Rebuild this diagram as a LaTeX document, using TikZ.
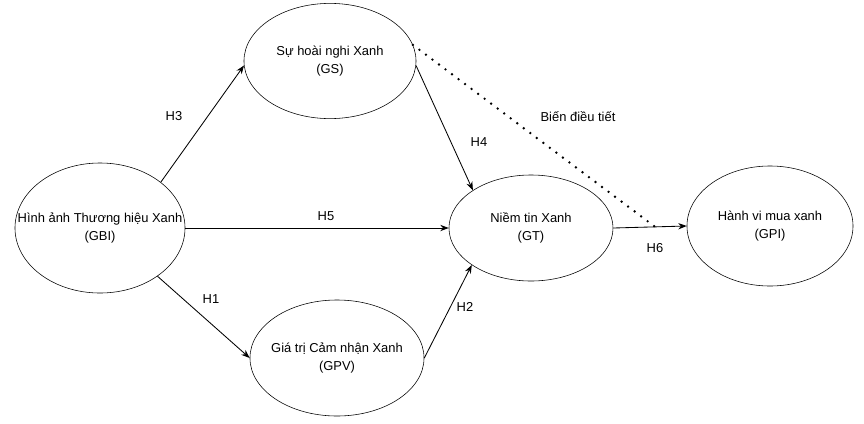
\documentclass[tikz,border=0pt]{standalone}
\usepackage{fontspec}
\setmainfont{Liberation Sans}
\usepackage{tikz}
\usetikzlibrary{shapes.geometric,arrows.meta,positioning}

\begin{document}
\begin{tikzpicture}[x=0.025cm,y=-0.025cm,
  construct/.style={draw,ellipse,inner sep=0pt,
                label={[align=center,font=\fontsize{9.2}{12.8}\selectfont]center:#1}},
  arr/.style={-{Stealth[length=6pt,width=4.5pt]},semithick},
  mod/.style={line width=1.9pt,dash pattern=on 0pt off 5.8pt,line cap=round},
  lbl/.style={font=\fontsize{9.2}{10}\selectfont}
]
\useasboundingbox (0,0) rectangle (864,423);
\node[construct={Hình ảnh Thương hiệu Xanh\\(GBI)},minimum width=4.25cm,minimum height=3.25cm] (GBI) at (100,228) {};
\node[construct={Sự hoài nghi Xanh\\(GS)},minimum width=4.3cm,minimum height=2.88cm] (GS)  at (330,61)  {};
\node[construct={Giá trị Cảm nhận Xanh\\(GPV)},minimum width=4.35cm,minimum height=2.9cm] (GPV) at (337,358) {};
\node[construct={Niềm tin Xanh\\(GT)},minimum width=4.1cm,minimum height=2.65cm] (GT)  at (531,228) {};
\node[construct={Hành vi mua xanh\\(GPI)},minimum width=4.15cm,minimum height=3.0cm] (GPI) at (770,226) {};

\draw[arr] (GBI.37) -- (GS.183);
\draw[arr] (GBI.east) -- (GT.west);
\draw[arr] (GBI.-40) -- (GPV.west);
\draw[arr] (GS.-3) -- (GT.147);
\draw[arr] (GPV.east) -- (GT.212);
\draw[arr] (GT.east) -- coordinate[pos=0.57] (m) (GPI.west);
\draw[mod] (GS.11) -- (m);

\node[lbl] at (174,116) {H3};
\node[lbl] at (326,216) {H5};
\node[lbl] at (211,299) {H1};
\node[lbl] at (479,142) {H4};
\node[lbl] at (465,307) {H2};
\node[lbl] at (655,248) {H6};
\node[lbl] at (578,117) {Biến điều tiết};
\end{tikzpicture}
\end{document}
